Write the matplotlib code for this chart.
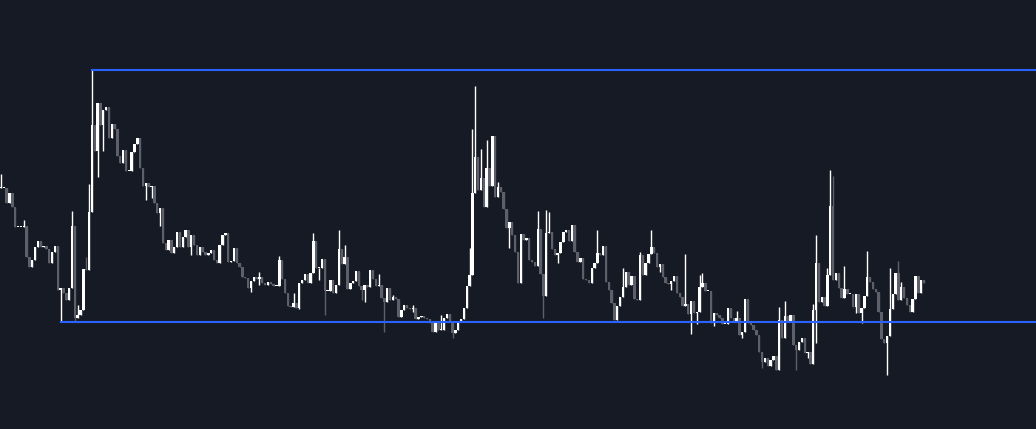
import numpy as np
import matplotlib
matplotlib.use("Agg")
import matplotlib.pyplot as plt

# closing prices, one per candle (open = previous close)
closes = [
    212, 212, 197, 207, 193, 173, 173, 173, 174, 143,
    133, 140, 153, 159, 153, 154, 151, 137, 148, 154,
    110, 112, 107, 100, 112, 174, 82, 85, 90, 131,
    130, 188, 275, 249, 297, 275, 290, 293, 262, 276,
    271, 244, 237, 250, 229, 229, 248, 256, 262, 232,
    214, 217, 213, 214, 197, 187, 192, 157, 150, 160,
    147, 153, 168, 153, 163, 170, 153, 165, 155, 145,
    153, 148, 145, 147, 150, 140, 137, 155, 165, 167,
    138, 139, 152, 137, 133, 123, 122, 112, 119, 123,
    121, 123, 117, 115, 118, 116, 114, 114, 140, 121,
    107, 94, 93, 97, 92, 117, 120, 126, 117, 127,
    159, 132, 132, 141, 109, 109, 120, 107, 115, 151,
    136, 143, 111, 117, 119, 129, 114, 110, 115, 113,
    130, 121, 114, 115, 102, 98, 112, 100, 103, 101,
    83, 90, 95, 92, 91, 92, 81, 83, 84, 82,
    81, 77, 68, 77, 70, 70, 82, 86, 78, 67,
    70, 78, 81, 92, 114, 125, 207, 243, 210, 222,
    193, 232, 214, 264, 203, 213, 208, 191, 172, 178,
    165, 148, 117, 166, 160, 162, 140, 138, 134, 171,
    126, 104, 167, 168, 151, 145, 147, 158, 168, 170,
    159, 175, 148, 138, 142, 121, 120, 117, 132, 137,
    147, 145, 154, 118, 110, 97, 80, 94, 103, 113,
    128, 115, 124, 101, 100, 145, 125, 137, 146, 153,
    147, 133, 136, 123, 117, 116, 119, 124, 107, 103,
    94, 96, 86, 99, 87, 88, 113, 117, 109, 109,
    77, 87, 85, 82, 76, 76, 92, 82, 79, 82,
    65, 68, 101, 77, 75, 70, 65, 48, 38, 42,
    34, 40, 44, 30, 80, 62, 84, 78, 85, 55,
    50, 58, 62, 47, 48, 36, 90, 137, 98, 103,
    94, 125, 194, 120, 127, 112, 102, 111, 106, 106,
    93, 106, 87, 92, 104, 123, 118, 111, 108, 88,
    61, 57, 64, 91, 106, 127, 100, 113, 102, 95,
    88, 101, 124, 107, 120, 117,
]
first_open = 212

# visible wicks: candle index -> extreme price
wick_high = {
    0: 226, 8: 180, 25: 189, 27: 95, 30: 143, 31: 216, 32: 330,
    91: 128, 98: 144, 103: 107, 110: 167, 119: 170, 121: 155,
    133: 126, 138: 105, 145: 95, 155: 85, 165: 152, 166: 271,
    167: 314, 169: 251, 171: 260, 175: 218, 189: 189, 192: 190,
    193: 188, 210: 170, 219: 132, 225: 148, 229: 170, 241: 146,
    246: 125, 247: 127, 259: 89, 274: 93, 276: 99, 286: 96,
    287: 165, 291: 132, 292: 230, 293: 224, 297: 134, 305: 149,
    313: 132, 316: 139, 317: 118,
}
wick_low = {
    21: 78, 26: 78, 34: 223, 36: 249, 51: 200, 53: 202, 56: 174,
    67: 145, 88: 108, 91: 115, 105: 91, 112: 120, 114: 85,
    127: 100, 128: 98, 135: 68, 145: 88, 159: 62, 179: 152,
    191: 82, 196: 137, 232: 128, 236: 110, 243: 66, 245: 76,
    251: 74, 261: 62, 268: 32, 280: 30, 284: 42, 287: 57,
    301: 87, 303: 77, 312: 25,
}

# horizontal levels drawn on the chart
resistance = 330
resistance_start = 32
support = 78
support_start = 21

bg = '#161a25'
up_col = '#ffffff'
down_col = '#5d606b'
line_col = '#2962ff'

n = len(closes)
closes = np.array(closes, dtype=float)
opens = np.concatenate([[first_open], closes[:-1]])
highs = np.maximum(opens, closes)
lows = np.minimum(opens, closes)
for i, v in wick_high.items():
    highs[i] = max(highs[i], v)
for i, v in wick_low.items():
    lows[i] = min(lows[i], v)

up = closes >= opens
colors = np.where(up, up_col, down_col)

fig = plt.figure(figsize=(10.36, 4.29), dpi=100)
fig.patch.set_facecolor(bg)
ax = fig.add_axes([0, 0, 1, 1])
ax.set_facecolor(bg)

x = np.arange(n)
ax.vlines(x, lows, highs, colors=colors, linewidth=1.0, zorder=2)
body = np.maximum(np.abs(closes - opens), 1.2)
ax.bar(x, body, bottom=np.minimum(opens, closes), width=0.85,
       color=colors, linewidth=0, zorder=3)

pitch = 2.84  # pixels per candle
xmax = (1036 - 1) / pitch
ax.plot([resistance_start, xmax], [resistance, resistance],
        color=line_col, linewidth=1.5, zorder=4)
ax.plot([support_start, xmax], [support, support],
        color=line_col, linewidth=1.5, zorder=4)

ax.set_xlim(-1 / pitch, xmax)
ax.set_ylim(-29, 400)
ax.axis('off')

fig.savefig('out.png', dpi=100, facecolor=bg)
